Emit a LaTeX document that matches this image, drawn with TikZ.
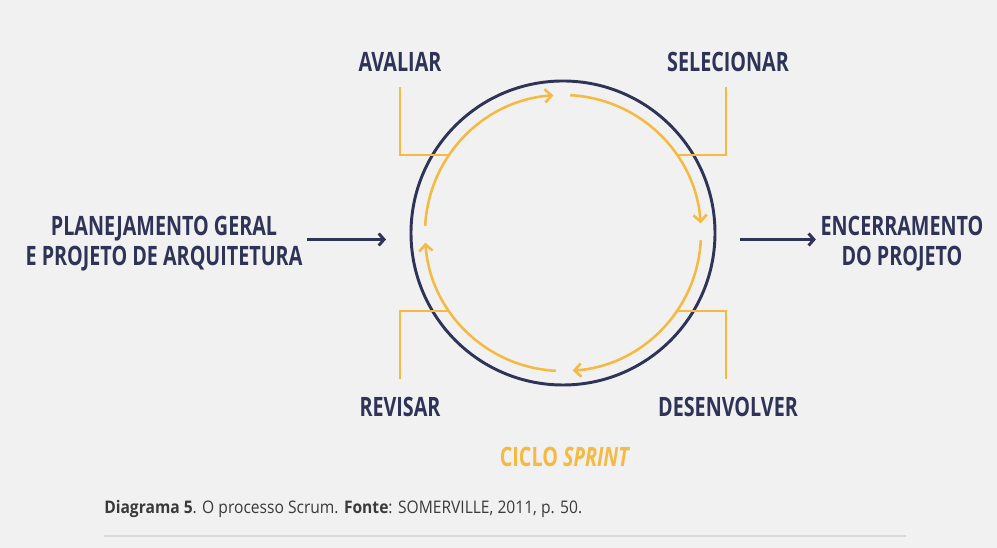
\documentclass[tikz,border=0pt]{standalone}
\usepackage{fontspec}
\setmainfont{Open Sans}
\newfontfamily\condfont[FakeStretch=0.74]{Open Sans}
\newfontfamily\capfont[FakeStretch=0.9]{Open Sans}
\usetikzlibrary{arrows.meta}
\definecolor{navy}{HTML}{2F3358}
\definecolor{amber}{HTML}{F6B941}
\definecolor{page-bg}{HTML}{F1F1F1}
\definecolor{rule-gray}{HTML}{D9D9D9}
\definecolor{caption-text}{HTML}{3A3A3A}

\begin{document}
\begin{tikzpicture}[x=0.75pt, y=0.75pt,
      phase label/.style={font=\condfont\bfseries\fontsize{20}{22.5}\selectfont,
        text=navy, align=center},
      flow/.style={navy, line width=2.2pt, -{Straight Barb[length=4pt, width=9pt]}},
      cycle/.style={amber, line width=1.9pt}]
    \path[use as bounding box, fill=page-bg] (0,0) rectangle (997,548);
    \coordinate (c) at (563,315);
    \draw[navy, line width=2.2pt] (c) circle[radius=152];
    \foreach \s in {177,87,-3,-93} {
      \draw[cycle, -{Straight Barb[length=5pt, width=10pt]}] ([shift={(\s:138)}]c)
        arc[start angle=\s, end angle=\s-83, radius=138];
    }
    \foreach \sx/\sy in {-1/1, 1/1, -1/-1, 1/-1} {
      \draw[cycle] ([shift={(\sx*163,\sy*146)}]c) |- ([shift={(\sx*115,\sy*78)}]c);
    }
    \node[phase label] (avaliar) at (400,486) {AVALIAR};
    \node[phase label] (selecionar) at (728,486) {SELECIONAR};
    \node[phase label] (revisar) at (400,141) {REVISAR};
    \node[phase label] (desenvolver) at (728,141) {DESENVOLVER};
    \node[phase label, text=amber] (sprint) at (565,91) {CICLO \textit{SPRINT}};
    \node[phase label] (plan) at (164,304) {PLANEJAMENTO GERAL\\E PROJETO DE ARQUITETURA};
    \node[phase label] (close) at (902,304) {ENCERRAMENTO\\DO PROJETO};
    \coordinate (cin) at (386,308.5);
    \coordinate (cout) at (740,308.5);
    \draw[flow] (plan.east |- cin) -- (cin);
    \draw[flow] (cout) -- (close.west |- cout);
    \node[anchor=west, inner sep=0, text=caption-text,
          font=\capfont\fontsize{13}{15}\selectfont] (caption) at (104,39)
      {\textbf{Diagrama 5}. O processo Scrum. \textbf{Fonte}: SOMERVILLE, 2011, p. 50.};
    \coordinate (rule a) at (104,12);
    \coordinate (rule b) at (906,12);
    \draw[rule-gray, line width=0.9pt] (rule a) -- (rule b);
  \end{tikzpicture}
\end{document}
